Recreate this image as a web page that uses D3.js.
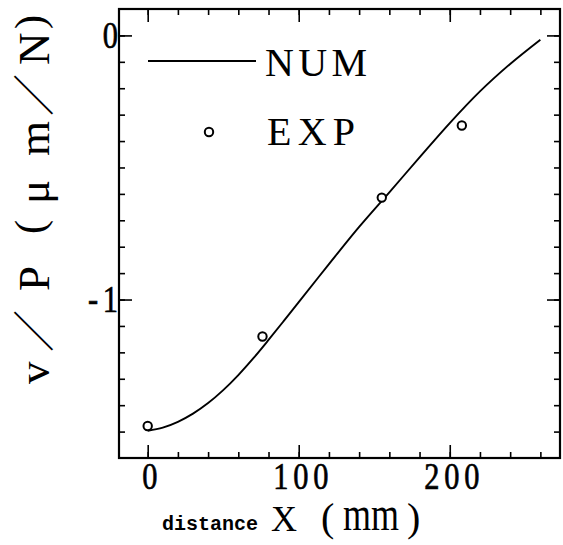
<!DOCTYPE html>
<html>
<head>
<meta charset="utf-8">
<script src="https://cdn.jsdelivr.net/npm/d3@7"></script>
<style>
  body { margin: 0; background: #fff; }
  .tick line { stroke: #000; stroke-width: 1.6; }
</style>
</head>
<body>
<svg id="chart" width="563" height="545"></svg>
<script>
// numerical curve (NUM)
const curveX = [0, 10, 20, 30, 40, 50, 60, 70, 80, 90, 100, 120, 140, 160, 180, 200, 220, 240, 260];
const curveY = [-1.497, -1.485, -1.463, -1.432, -1.392, -1.343, -1.286, -1.222, -1.153, -1.082, -1.010,
                -0.866, -0.725, -0.594, -0.462, -0.332, -0.212, -0.108, -0.016];
// experiment points (EXP)
const expX = [0, 76, 155, 208];
const expY = [-1.479, -1.140, -0.614, -0.341];
// ticks
const xTickVals = [0, 100, 200];
const xTickText = ["0", "100", "200"];
const yTickVals = [0, -1];
const yTickText = ["0", "-1"];
const legendLabels = ["NUM", "EXP"];

const W = 563, H = 545;
const margin = { top: 9, right: 3, bottom: 87, left: 119 };

const x = d3.scaleLinear().domain([-19, 273]).range([margin.left, W - margin.right]);
const y = d3.scaleLinear().domain([-1.6, 0.1]).range([H - margin.bottom, margin.top]);

const svg = d3.select("#chart");
const x0 = x.range()[0], x1 = x.range()[1];
const y0 = y.range()[0], y1 = y.range()[1];

const serif = "'Liberation Serif', serif";
const cjk = "'Noto Sans CJK JP', sans-serif";
const sx = 0.8; // digits in the original are narrow

// minor ticks, all four sides, pointing inward
const xMinor = d3.range(0, 261, 20);
const yMinor = d3.range(-1.5, 0.05, 0.1);

function axisBits(axis, tf) {
    const g = svg.append("g").attr("transform", tf).call(axis);
    g.select(".domain").remove();
    return g;
}

axisBits(d3.axisBottom(x).tickValues(xMinor).tickSize(-6).tickFormat(""), `translate(0,${y0})`);
axisBits(d3.axisTop(x).tickValues(xMinor).tickSize(-6).tickFormat(""), `translate(0,${y1})`);
axisBits(d3.axisLeft(y).tickValues(yMinor).tickSize(-6).tickFormat(""), `translate(${x0},0)`);
axisBits(d3.axisRight(y).tickValues(yMinor).tickSize(-6).tickFormat(""), `translate(${x1},0)`);

// major ticks with labels
const xAx = axisBits(d3.axisBottom(x).tickValues(xTickVals).tickSize(-13).tickPadding(4)
    .tickFormat((d, i) => xTickText[i]), `translate(0,${y0})`);
axisBits(d3.axisTop(x).tickValues(xTickVals).tickSize(-13).tickFormat(""), `translate(0,${y1})`);
const yAx = axisBits(d3.axisLeft(y).tickValues(yTickVals).tickSize(-13).tickPadding(5)
    .tickFormat((d, i) => yTickText[i]), `translate(${x0},0)`);
axisBits(d3.axisRight(y).tickValues(yTickVals).tickSize(-13).tickFormat(""), `translate(${x1},0)`);

const ls = 6;
xAx.selectAll("text")
    .attr("font-family", serif).attr("font-size", 38).attr("fill", "#000")
    .attr("stroke", "#000").attr("stroke-width", 0.7)
    .attr("letter-spacing", ls)
    .attr("x", ls / 2 + 2)
    .attr("transform", `scale(${sx},1)`);
yAx.selectAll("text")
    .attr("font-family", serif).attr("font-size", 38).attr("fill", "#000")
    .attr("stroke", "#000").attr("stroke-width", 0.7)
    .attr("letter-spacing", ls)
    .attr("x", (-1 + ls * sx) / sx)
    .attr("transform", `scale(${sx},1)`);

// frame
svg.append("rect")
    .attr("x", x0).attr("y", y1)
    .attr("width", x1 - x0).attr("height", y0 - y1)
    .attr("fill", "none").attr("stroke", "#000").attr("stroke-width", 2.2);

// NUM curve
const line = d3.line()
    .x((d, i) => x(curveX[i]))
    .y((d, i) => y(curveY[i]))
    .curve(d3.curveCatmullRom.alpha(0.5));

svg.append("path")
    .datum(curveX)
    .attr("d", line)
    .attr("fill", "none")
    .attr("stroke", "#000")
    .attr("stroke-width", 1.9);

// EXP points
svg.selectAll(".pt")
    .data(expX)
    .enter()
    .append("circle")
    .attr("class", "pt")
    .attr("cx", d => x(d))
    .attr("cy", (d, i) => y(expY[i]))
    .attr("r", 4.2)
    .attr("fill", "#fff")
    .attr("stroke", "#000")
    .attr("stroke-width", 2);

// legend
const legend = svg.append("g");
legend.append("line")
    .attr("x1", 148).attr("x2", 256).attr("y1", 61).attr("y2", 61)
    .attr("stroke", "#000").attr("stroke-width", 1.9);
legend.append("circle")
    .attr("cx", 209).attr("cy", 132).attr("r", 4.2)
    .attr("fill", "#fff").attr("stroke", "#000").attr("stroke-width", 2);
legend.selectAll(".lab")
    .data(legendLabels)
    .enter()
    .append("text")
    .attr("class", "lab")
    .attr("x", (d, i) => i ? 267 : 265)
    .attr("y", (d, i) => i ? 145 : 76)
    .attr("font-family", serif)
    .attr("font-size", 40)
    .attr("textLength", (d, i) => i ? 88 : 102)
    .attr("lengthAdjust", "spacing")
    .text(d => d);

// y title, read bottom to top; each glyph placed along the rotated baseline
const yTitle = svg.append("text")
    .attr("transform", "translate(49,384) rotate(-90)");
[["v", serif, 45, 0, 0], ["／", cjk, 42, 32, 0], ["P", serif, 45, 93, 0], ["(", serif, 42, 150, -5],
 ["μ", serif, 45, 180, 0], ["m", serif, 45, 228, 0], ["／", cjk, 42, 268, 0], ["N", serif, 45, 319, 0],
 [")", serif, 42, 355, -5]].forEach(([ch, f, s, p, off]) => {
    yTitle.append("tspan").attr("x", p).attr("y", off)
        .attr("font-family", f).attr("font-size", s).text(ch);
});

// x title
svg.append("text")
    .attr("x", 162).attr("y", 530)
    .attr("font-family", "'Liberation Mono', monospace")
    .attr("font-weight", "bold")
    .attr("font-size", 20)
    .text("distance");
const xTitle = svg.append("text").attr("y", 531);
xTitle.append("tspan").attr("x", 271).attr("font-family", serif).attr("font-size", 36).text("X");
xTitle.append("tspan").attr("x", 321).attr("font-family", serif).attr("font-size", 40).text("(");
xTitle.append("tspan").attr("x", 407).attr("font-family", serif).attr("font-size", 40).text(")");
svg.append("text")
    .attr("transform", "translate(343,530) scale(1,1.35)")
    .attr("font-family", serif)
    .attr("font-size", 36)
    .text("mm");
</script>
</body>
</html>
